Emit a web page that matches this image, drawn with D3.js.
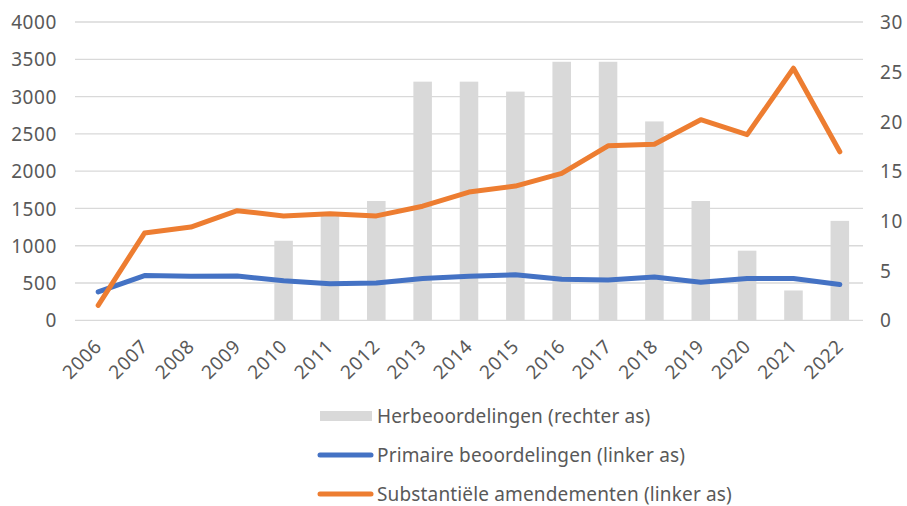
<!DOCTYPE html>
<html><head><meta charset="utf-8">
<script src="https://cdn.jsdelivr.net/npm/d3@7"></script>
<style>body{margin:0;background:#fff}svg{display:block}text{font-family:"Noto Sans",sans-serif;fill:#595959}</style>
</head><body><svg id="c" width="907" height="506"></svg>
<script>
const years = ["2006","2007","2008","2009","2010","2011","2012","2013","2014","2015","2016","2017","2018","2019","2020","2021","2022"];
const herbeoordelingen = [null,null,null,null,8,10.7,12,24,24,23,26,26,20,12,7,3,10];
const primaire = [380,600,590,595,530,490,500,560,590,610,550,540,580,510,560,560,480];
const substantieel = [200,1170,1250,1470,1400,1430,1400,1530,1720,1800,1970,2340,2360,2690,2490,3380,2260];
const leftTicks = [0,500,1000,1500,2000,2500,3000,3500,4000];
const rightTicks = [0,5,10,15,20,25,30];
const legendLabels = ["Herbeoordelingen (rechter as)","Primaire beoordelingen (linker as)","Substantiële amendementen (linker as)"];

const svg = d3.select("#c");
const x = d3.scaleBand().domain(years).range([75,863]).paddingInner(0).paddingOuter(0);
const yL = d3.scaleLinear().domain([0,4000]).range([320.3,22]);
const yR = d3.scaleLinear().domain([0,30]).range([320.3,22]);
const fs = 19, ls = "0.6px";

// gridlines
svg.append("g").selectAll("line").data(leftTicks).join("line")
  .attr("x1",75).attr("x2",863).attr("y1",d=>yL(d)).attr("y2",d=>yL(d))
  .attr("stroke","#d9d9d9").attr("stroke-width",1.3);

// left axis
const gL = svg.append("g").attr("transform","translate(57,0)")
  .call(d3.axisLeft(yL).tickValues(leftTicks).tickFormat(d3.format("d")).tickSize(0).tickPadding(0));
gL.select(".domain").remove();
gL.selectAll("text").attr("font-size",fs).attr("letter-spacing",ls).attr("font-family","Noto Sans").attr("fill","#595959").attr("dy","0.35em");

// right axis
const gR = svg.append("g").attr("transform","translate(880,0)")
  .call(d3.axisRight(yR).tickValues(rightTicks).tickFormat(d3.format("d")).tickSize(0).tickPadding(0));
gR.select(".domain").remove();
gR.selectAll("text").attr("font-size",fs).attr("letter-spacing",ls).attr("font-family","Noto Sans").attr("fill","#595959").attr("dy","0.35em");

// bars
const bw = x.bandwidth()*0.4;
svg.append("g").selectAll("rect").data(years.map((y,i)=>({y,v:herbeoordelingen[i]})).filter(d=>d.v!=null)).join("rect")
  .attr("x",d=>x(d.y)+x.bandwidth()/2-bw/2).attr("width",bw)
  .attr("y",d=>yR(d.v)).attr("height",d=>yR(0)-yR(d.v)).attr("fill","#d9d9d9");

// x labels
svg.append("g").selectAll("text").data(years).join("text")
  .attr("transform",d=>`translate(${x(d)+x.bandwidth()/2},343) rotate(-45)`)
  .attr("text-anchor","end").attr("dy","0.35em").attr("font-size",fs).attr("letter-spacing",ls).text(d=>d);

// lines
const line = d3.line().x((d,i)=>x(years[i])+x.bandwidth()/2).y(d=>yL(d));
svg.append("path").datum(primaire).attr("d",line).attr("fill","none").attr("stroke","#4472c4").attr("stroke-width",5).attr("stroke-linejoin","round").attr("stroke-linecap","round");
svg.append("path").datum(substantieel).attr("d",line).attr("fill","none").attr("stroke","#ed7d31").attr("stroke-width",5).attr("stroke-linejoin","round").attr("stroke-linecap","round");

// legend
const lg = svg.append("g");
const rows = [416, 455, 494];
lg.append("rect").attr("x",320).attr("y",rows[0]-5).attr("width",52).attr("height",10).attr("fill","#d9d9d9");
lg.append("line").attr("x1",320).attr("x2",371).attr("y1",rows[1]).attr("y2",rows[1]).attr("stroke","#4472c4").attr("stroke-width",5).attr("stroke-linecap","round");
lg.append("line").attr("x1",320).attr("x2",371).attr("y1",rows[2]).attr("y2",rows[2]).attr("stroke","#ed7d31").attr("stroke-width",5).attr("stroke-linecap","round");
lg.selectAll("text.l").data(legendLabels).join("text").attr("class","l")
  .attr("x",377).attr("y",(d,i)=>rows[i]).attr("dy","0.35em").attr("font-size",fs).attr("letter-spacing","0.15px").text(d=>d);
</script></body></html>
